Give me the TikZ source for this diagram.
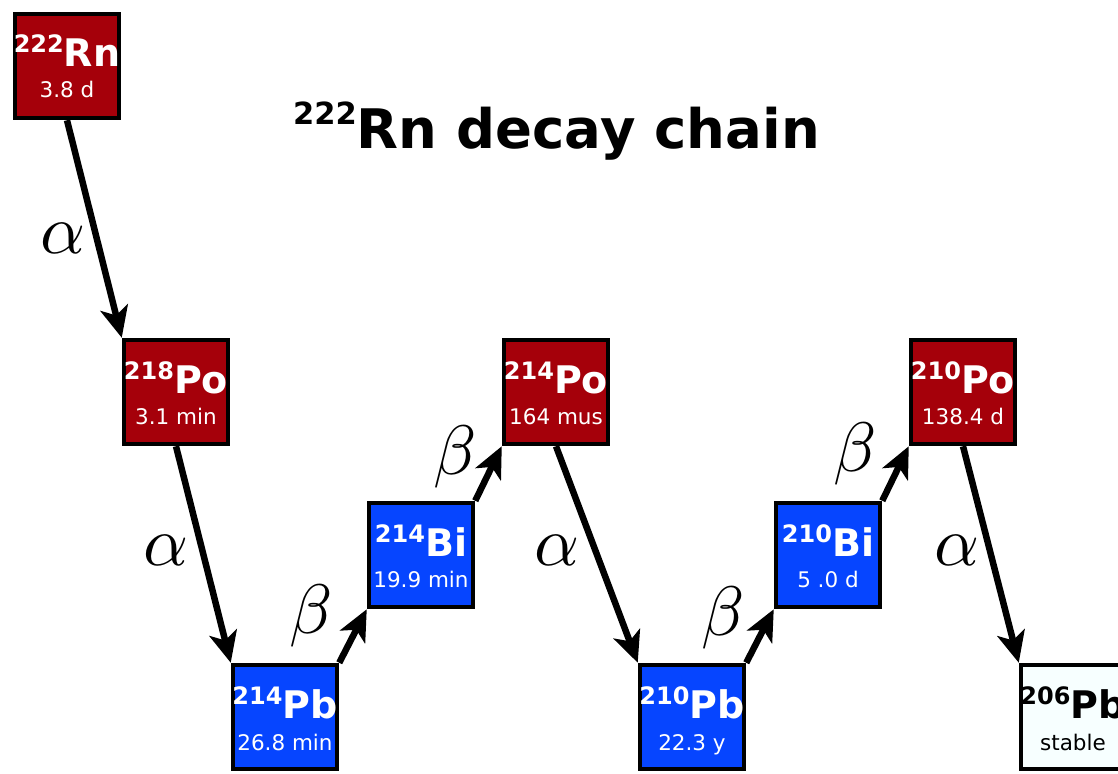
\documentclass[tikz,border=0pt]{standalone}
\usepackage{graphicx}
\usepackage{fontspec}
\setmainfont{DejaVu Sans}
\usetikzlibrary{arrows.meta}
\definecolor{nred}{HTML}{A5000A}
\definecolor{nblue}{HTML}{0645FF}
\definecolor{nwhite}{HTML}{F7FFFF}
\newcommand{\mynuc}[2]{\bfseries{\fontsize{24}{24}\selectfont\raisebox{14pt}{#1}}{\fontsize{38}{38}\selectfont #2}}
\newcommand{\biggreek}[1]{\scalebox{7}{$#1$}}
\tikzset{
  nucbox/.style={draw=black, line width=4.5pt, minimum size=104pt, inner sep=0pt},
  symtxt/.style={anchor=base, inner sep=0pt, text=white},
  halftxt/.style={anchor=base, inner sep=0pt, text=white, font=\fontsize{21.5}{21.5}\selectfont},
  decay/.style={line width=6.5pt, -{Stealth[length=31pt,width=28pt,inset=8pt]}},
  greek/.style={inner sep=0pt}
}
\begin{document}
\begin{tikzpicture}[x=1pt,y=-1pt]
\useasboundingbox (0,0) rectangle (1118,773);
% boxes
\node[nucbox, fill=nred]   (rn)    at (67,66)   {};
\node[nucbox, fill=nred]   (po218) at (176,392) {};
\node[nucbox, fill=nblue]  (pb214) at (285,717) {};
\node[nucbox, fill=nblue]  (bi214) at (421,555) {};
\node[nucbox, fill=nred]   (po214) at (556,392) {};
\node[nucbox, fill=nblue]  (pb210) at (692,717) {};
\node[nucbox, fill=nblue]  (bi210) at (828,555) {};
\node[nucbox, fill=nred]   (po210) at (963,392) {};
\node[nucbox, fill=nwhite] (pb206) at (1073,717) {};
% texts
\node[symtxt]  (rnS)  at ([yshift=-1pt]rn.center) {\mynuc{222}{Rn}};
\node[halftxt] (rnH)  at ([yshift=-32pt]rn.center) {3.8 d};
\node[symtxt]  (po218S) at ([yshift=-1pt]po218.center) {\mynuc{218}{Po}};
\node[halftxt] (po218H) at ([yshift=-32pt]po218.center) {3.1 min};
\node[symtxt]  (pb214S) at ([yshift=-1pt]pb214.center) {\mynuc{214}{Pb}};
\node[halftxt] (pb214H) at ([yshift=-33pt]pb214.center) {26.8 min};
\node[symtxt]  (bi214S) at ([yshift=-1pt]bi214.center) {\mynuc{214}{Bi}};
\node[halftxt] (bi214H) at ([yshift=-32pt]bi214.center) {19.9 min};
\node[symtxt]  (po214S) at ([yshift=-1pt]po214.center) {\mynuc{214}{Po}};
\node[halftxt] (po214H) at ([yshift=-32pt]po214.center) {164 mus};
\node[symtxt]  (pb210S) at ([yshift=-1pt]pb210.center) {\mynuc{210}{Pb}};
\node[halftxt] (pb210H) at ([yshift=-33pt]pb210.center) {22.3 y};
\node[symtxt]  (bi210S) at ([yshift=-1pt]bi210.center) {\mynuc{210}{Bi}};
\node[halftxt] (bi210H) at ([yshift=-32pt]bi210.center) {5 .0 d};
\node[symtxt]  (po210S) at ([yshift=-1pt]po210.center) {\mynuc{210}{Po}};
\node[halftxt] (po210H) at ([yshift=-32pt]po210.center) {138.4 d};
\node[symtxt, text=black]  (pb206S) at ([yshift=-1pt]pb206.center) {\mynuc{206}{Pb}};
\node[halftxt, text=black] (pb206H) at ([yshift=-33pt]pb206.center) {stable};
% title
\node[anchor=base west, inner sep=0pt] (title) at (293,148)
  {\bfseries{\fontsize{30.5}{30.5}\selectfont\raisebox{24pt}{222}}{\fontsize{54.5}{54.5}\selectfont Rn decay chain}};
% decays
\draw[decay] (rn.south) -- (po218.north west);
\draw[decay] (po218.south) -- (pb214.north west);
\draw[decay] (pb214.north east) -- (bi214.south west);
\draw[decay] (bi214.north east) -- (po214.south west);
\draw[decay] (po214.south) -- (pb210.north west);
\draw[decay] (pb210.north east) -- (bi210.south west);
\draw[decay] (bi210.north east) -- (po210.south west);
\draw[decay] (po210.south) -- (pb206.north west);
% labels
\node[greek] (a1) at (63,238) {\biggreek{\alpha}};
\node[greek] (a2) at (166,550) {\biggreek{\alpha}};
\node[greek] (a3) at (557,550) {\biggreek{\alpha}};
\node[greek] (a4) at (957,550) {\biggreek{\alpha}};
\node[greek] (b1) at (311,616) {\biggreek{\beta}};
\node[greek] (b2) at (455,457) {\biggreek{\beta}};
\node[greek] (b3) at (723,618) {\biggreek{\beta}};
\node[greek] (b4) at (855,454) {\biggreek{\beta}};
\end{tikzpicture}
\end{document}
